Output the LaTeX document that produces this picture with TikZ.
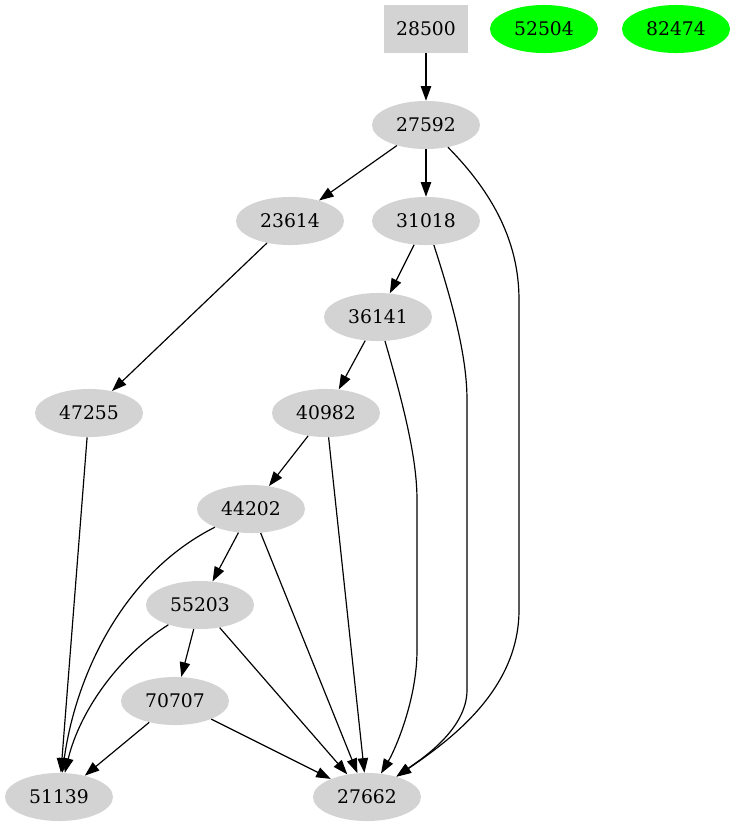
\documentclass[tikz,border=0pt]{standalone}
\usepackage{fontspec}
\setmainfont{DejaVu Serif}
\usepackage{tikz}
\usetikzlibrary{shapes, arrows.meta, positioning}
\definecolor{nodegray}{RGB}{211,211,211}
\definecolor{nodegreen}{RGB}{0,255,0}
\tikzstyle{vertex} = [ellipse, fill=nodegray, minimum width=77.8pt, minimum height=34.6pt, inner sep=0pt, font=\fontsize{13.5}{16}\selectfont]
\tikzstyle{root} = [rectangle, fill=nodegray, minimum width=60.5pt, minimum height=34.6pt, inner sep=0pt, font=\fontsize{13.5}{16}\selectfont]
\tikzstyle{lonely} = [vertex, fill=nodegreen]
\tikzstyle{arrow} = [draw, line width=0.85pt, -{Triangle[length=10.5pt, width=7.5pt]}]

\begin{document}
\begin{tikzpicture}[x=0.72pt, y=-0.72pt]
    \useasboundingbox (0,0) rectangle (735,827);

    \node (n28500) [root] at (426,29) {28500};
    \node (n52504) [lonely] at (544,29) {52504};
    \node (n82474) [lonely] at (676,29) {82474};
    \node (n27592) [vertex] at (426,125) {27592};
    \node (n23614) [vertex] at (290,221) {23614};
    \node (n31018) [vertex] at (426,221) {31018};
    \node (n36141) [vertex] at (378,317) {36141};
    \node (n47255) [vertex] at (89,413) {47255};
    \node (n40982) [vertex] at (326,413) {40982};
    \node (n44202) [vertex] at (251,509) {44202};
    \node (n55203) [vertex] at (200,605) {55203};
    \node (n70707) [vertex] at (175,701) {70707};
    \node (n51139) [vertex] at (59,797) {51139};
    \node (n27662) [vertex] at (367,797) {27662};

    \draw [arrow] (n28500) -- (n27592);
    \draw [arrow] (n27592) -- (n23614);
    \draw [arrow] (n27592) -- (n31018);
    \draw [arrow] (n27592) .. controls (500,200) and (519,250) .. (519,300) -- (519,610) .. controls (519,690) and (450,740) .. (n27662);
    \draw [arrow] (n23614) -- (n47255);
    \draw [arrow] (n31018) -- (n36141);
    \draw [arrow] (n31018) .. controls (455,310) and (467,360) .. (467,400) -- (467,690) .. controls (467,730) and (420,760) .. (n27662);
    \draw [arrow] (n36141) -- (n40982);
    \draw [arrow] (n36141) .. controls (405,410) and (417,460) .. (417,500) -- (417,650) .. controls (417,700) and (395,750) .. (n27662);
    \draw [arrow] (n47255) -- (n51139);
    \draw [arrow] (n40982) -- (n44202);
    \draw [arrow] (n40982) -- (n27662);
    \draw [arrow] (n44202) -- (n55203);
    \draw [arrow] (n44202) .. controls (120,575) and (75,680) .. (n51139);
    \draw [arrow] (n44202) -- (n27662);
    \draw [arrow] (n55203) -- (n70707);
    \draw [arrow] (n55203) .. controls (120,655) and (80,710) .. (n51139);
    \draw [arrow] (n55203) -- (n27662);
    \draw [arrow] (n70707) -- (n51139);
    \draw [arrow] (n70707) -- (n27662);
\end{tikzpicture}
\end{document}
